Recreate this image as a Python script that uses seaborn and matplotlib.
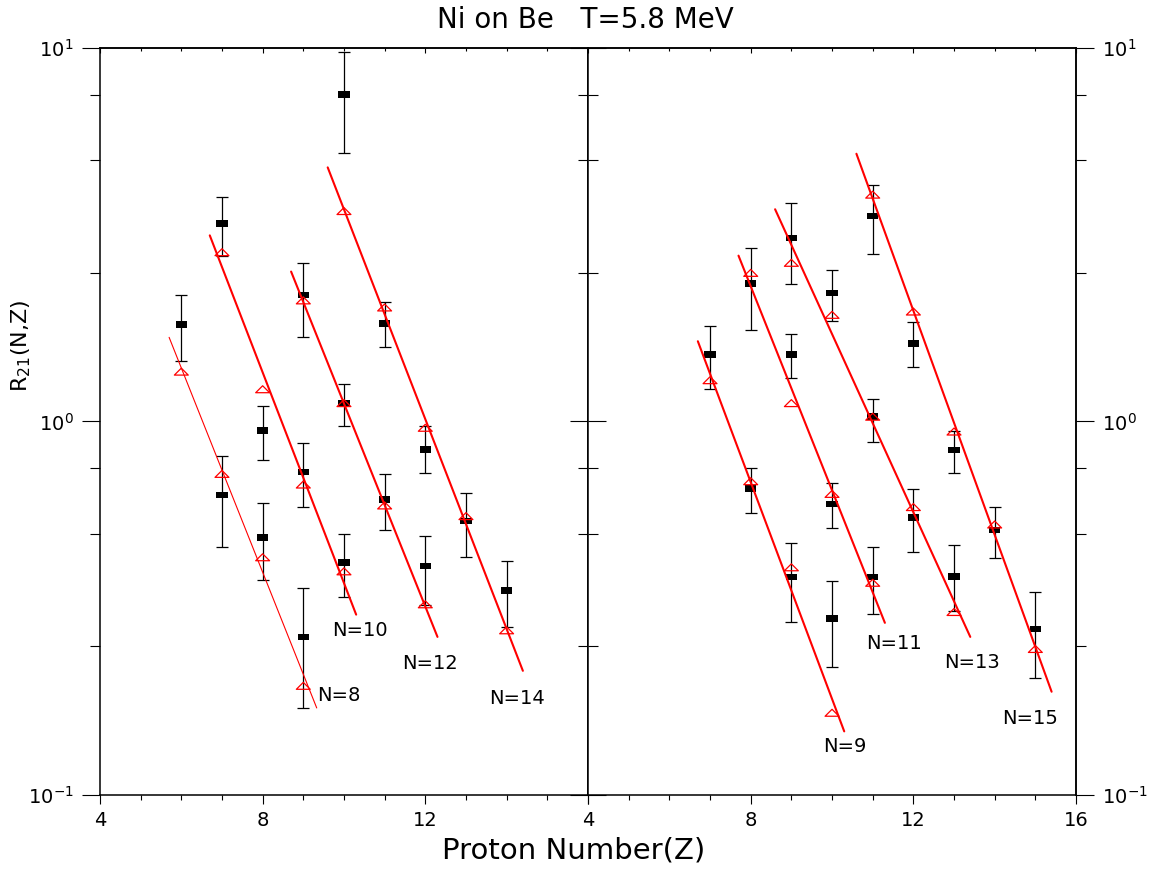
"""
plot.py - R21(N,Z) isoscaling ratios, Ni on Be, T=5.8 MeV
two panels: even N (left) and odd N (right)
"""
import numpy as np
import pandas as pd
import matplotlib
matplotlib.use("Agg")
import matplotlib.pyplot as plt
from matplotlib.path import Path
from matplotlib.ticker import (LogLocator, NullFormatter, MultipleLocator,
                               FixedLocator, LogFormatterSciNotation)
import seaborn as sns

# ---------------- data ----------------
# left panel, even N
N8_Z = [6, 7, 8, 9]
N8_exp = [1.82, 0.635, 0.490, 0.265]
N8_lo = [1.45, 0.462, 0.377, 0.171]
N8_hi = [2.18, 0.807, 0.604, 0.359]
N8_calc = [1.36, 0.724, 0.433, 0.196]
N8_fitZ = [5.7, 9.33]
N8_fitR = [1.68, 0.171]
N8_label = (9.33, 0.185)

N10_Z = [7, 8, 9, 10]
N10_exp = [3.39, 0.946, 0.732, 0.420]
N10_lo = [2.78, 0.791, 0.591, 0.339]
N10_hi = [4.00, 1.10, 0.875, 0.500]
N10_calc = [2.84, 1.22, 0.678, 0.397]
N10_fitZ = [6.7, 10.3]
N10_fitR = [3.15, 0.304]
N10_label = (9.71, 0.276)

N12_Z = [9, 10, 11, 12]
N12_exp = [2.18, 1.12, 0.618, 0.410]
N12_lo = [1.68, 0.971, 0.511, 0.322]
N12_hi = [2.66, 1.26, 0.723, 0.494]
N12_calc = [2.11, 1.12, 0.596, 0.324]
N12_fitZ = [8.7, 12.3]
N12_fitR = [2.52, 0.265]
N12_label = (11.43, 0.225)

N14_Z = [10, 11, 12, 13, 14]
N14_exp = [7.51, 1.83, 0.843, 0.541, 0.353]
N14_lo = [5.22, 1.58, 0.729, 0.435, 0.282]
N14_hi = [9.77, 2.09, 0.970, 0.644, 0.424]
N14_calc = [3.66, 2.02, 0.962, 0.558, 0.276]
N14_fitZ = [9.6, 14.4]
N14_fitR = [4.79, 0.215]
N14_label = (13.57, 0.181)

# right panel, odd N
N9_Z = [7, 8, 9, 10]
N9_exp = [1.51, 0.661, 0.383, 0.297]
N9_lo = [1.22, 0.570, 0.290, 0.220]
N9_hi = [1.80, 0.752, 0.474, 0.375]
N9_calc = [1.29, 0.692, 0.407, 0.166]
N9_fitZ = [6.7, 10.3]
N9_fitR = [1.64, 0.148]
N9_label = (9.78, 0.135)

N11_Z = [8, 9, 10, 11]
N11_exp = [2.34, 1.51, 0.601, 0.383]
N11_lo = [1.76, 1.31, 0.519, 0.306]
N11_hi = [2.91, 1.71, 0.685, 0.461]
N11_calc = [2.50, 1.12, 0.640, 0.370]
N11_fitZ = [7.7, 11.3]
N11_fitR = [2.78, 0.289]
N11_label = (10.83, 0.254)

N13_Z = [9, 10, 11, 12, 13]
N13_exp = [3.10, 2.21, 1.03, 0.554, 0.385]
N13_lo = [2.33, 1.86, 0.882, 0.448, 0.310]
N13_hi = [3.85, 2.54, 1.15, 0.661, 0.466]
N13_calc = [2.66, 1.93, 1.03, 0.590, 0.309]
N13_fitZ = [8.6, 13.4]
N13_fitR = [3.70, 0.265]
N13_label = (12.75, 0.226)

N15_Z = [11, 12, 13, 14, 15]
N15_exp = [3.55, 1.62, 0.838, 0.512, 0.278]
N15_lo = [2.80, 1.40, 0.726, 0.432, 0.206]
N15_hi = [4.30, 1.85, 0.942, 0.592, 0.350]
N15_calc = [4.05, 1.97, 0.940, 0.530, 0.246]
N15_fitZ = [10.6, 15.4]
N15_fitR = [5.21, 0.189]
N15_label = (14.18, 0.160)

# axis ticks
Y_MAJOR = [0.1, 1, 10]
Y_MINOR = [0.25, 0.5, 0.75, 2.5, 5, 7.5]

LEFT = [
    (8, N8_Z, N8_exp, N8_lo, N8_hi, N8_calc, N8_fitZ, N8_fitR, N8_label),
    (10, N10_Z, N10_exp, N10_lo, N10_hi, N10_calc, N10_fitZ, N10_fitR, N10_label),
    (12, N12_Z, N12_exp, N12_lo, N12_hi, N12_calc, N12_fitZ, N12_fitR, N12_label),
    (14, N14_Z, N14_exp, N14_lo, N14_hi, N14_calc, N14_fitZ, N14_fitR, N14_label),
]
RIGHT = [
    (9, N9_Z, N9_exp, N9_lo, N9_hi, N9_calc, N9_fitZ, N9_fitR, N9_label),
    (11, N11_Z, N11_exp, N11_lo, N11_hi, N11_calc, N11_fitZ, N11_fitR, N11_label),
    (13, N13_Z, N13_exp, N13_lo, N13_hi, N13_calc, N13_fitZ, N13_fitR, N13_label),
    (15, N15_Z, N15_exp, N15_lo, N15_hi, N15_calc, N15_fitZ, N15_fitR, N15_label),
]

# flat rectangle and flat triangle markers (like the Origin originals)
SQUARE = Path([(-1, -0.6), (1, -0.6), (1, 0.6), (-1, 0.6), (-1, -0.6)], closed=True)
TRIANGLE = Path([(-1, -0.5), (1, -0.5), (0, 0.5), (-1, -0.5)], closed=True)

sns.set_style("ticks")
plt.rcParams["font.family"] = ["DejaVu Sans"]
plt.rcParams["mathtext.default"] = "regular"
for key in ("text.color", "axes.labelcolor", "xtick.color", "ytick.color", "axes.edgecolor"):
    plt.rcParams[key] = "black"


def draw_panel(ax, series):
    for n, z, exp, lo, hi, calc, fit_z, fit_r, lab in series:
        df = pd.DataFrame({"Z": z, "exp": exp, "lo": lo, "hi": hi, "calc": calc})
        yerr = [df["exp"] - df["lo"], df["hi"] - df["exp"]]
        ax.errorbar(df["Z"], df["exp"], yerr=yerr, fmt="none", ecolor="black",
                    elinewidth=0.9, capsize=4, capthick=0.9, zorder=2)
        sns.scatterplot(data=df, x="Z", y="exp", marker=SQUARE, s=64, color="black",
                        edgecolor="none", linewidth=0, ax=ax, zorder=3, legend=False)
        sns.lineplot(x=fit_z, y=fit_r, color="red", linewidth=0.8 if n == 8 else 1.5,
                     ax=ax, zorder=4, legend=False)
        sns.scatterplot(data=df, x="Z", y="calc", marker=TRIANGLE, s=100, color="red",
                        facecolor="none", edgecolor="red", linewidth=0.9, ax=ax,
                        zorder=5, legend=False)
        ax.text(lab[0], lab[1], f"N={n}", fontsize=14, ha="left", va="center")


def style_panel(ax, outer_side):
    ax.set_yscale("log")
    ax.set_xlim(4, 16)
    ax.set_ylim(0.1, 10)
    ax.set_xlabel("")
    ax.set_ylabel("")
    for sp in ax.spines.values():
        sp.set_linewidth(1.1)
        sp.set_visible(True)

    ax.xaxis.set_major_locator(MultipleLocator(4))
    ax.xaxis.set_minor_locator(MultipleLocator(1))
    ax.tick_params(axis="x", which="both", direction="out", bottom=True, top=False,
                   labelsize=14, width=0.8)
    ax.tick_params(axis="x", which="major", length=6.5, pad=5)
    ax.tick_params(axis="x", which="minor", length=3.6)

    # top: small inward ticks
    top = ax.secondary_xaxis("top")
    top.xaxis.set_major_locator(FixedLocator([4, 8, 12, 16]))
    top.xaxis.set_minor_locator(FixedLocator(list(range(5, 16))))
    top.tick_params(which="both", direction="in", labeltop=False, width=0.8)
    top.tick_params(which="major", length=3.6)
    top.tick_params(which="minor", length=2.2)
    top.spines["top"].set_linewidth(1.1)

    ax.yaxis.set_major_locator(FixedLocator(Y_MAJOR))
    ax.yaxis.set_major_formatter(LogFormatterSciNotation())
    ax.yaxis.set_minor_locator(FixedLocator(Y_MINOR))
    ax.yaxis.set_minor_formatter(NullFormatter())

    # right side of every panel is drawn by a secondary axis
    sec = ax.secondary_yaxis("right")
    sec.yaxis.set_major_locator(FixedLocator(Y_MAJOR))
    sec.yaxis.set_major_formatter(LogFormatterSciNotation())
    sec.yaxis.set_minor_locator(FixedLocator(Y_MINOR))
    sec.yaxis.set_minor_formatter(NullFormatter())
    sec.spines["right"].set_linewidth(1.1)

    if outer_side == "left":
        # outward ticks + labels on the left, inward ticks on the shared middle
        ax.tick_params(axis="y", which="both", direction="out", left=True, right=False,
                       labelleft=True, labelright=False, labelsize=14, width=0.8, pad=6)
        sec.tick_params(which="both", direction="in", labelright=False, labelleft=False,
                        width=0.8)
    else:
        # inward ticks on the shared middle, outward ticks + labels on the right
        ax.tick_params(axis="y", which="both", direction="in", left=True, right=False,
                       labelleft=False, labelright=False, width=0.8)
        sec.tick_params(which="both", direction="out", labelright=True, labelleft=False,
                        labelsize=14, width=0.8, pad=6)
    for a in (ax, sec):
        a.tick_params(axis="y", which="major", length=13)
        a.tick_params(axis="y", which="minor", length=7)


fig = plt.figure(figsize=(11.64, 8.76), dpi=100)
axL = fig.add_axes([0.0859, 0.0925, 0.4192, 0.8527])
axR = fig.add_axes([0.5052, 0.0925, 0.4192, 0.8527])

for ax in (axL, axR):
    ax.set_yscale("log")

draw_panel(axL, LEFT)
draw_panel(axR, RIGHT)

style_panel(axL, "left")
style_panel(axR, "right")

axL.set_xticks([4, 8, 12, 16], ["4", "8", "12", ""])
axR.set_xticks([4, 8, 12, 16], ["4", "8", "12", "16"])

fig.text(0.503, 0.977, "Ni on Be   T=5.8 MeV", ha="center", va="center", fontsize=20)
fig.text(0.493, 0.029, "Proton Number(Z)", ha="center", va="center", fontsize=21)
fig.text(0.018, 0.605, r"R$_{21}$(N,Z)", ha="center", va="center", rotation=90,
         fontsize=16)

fig.savefig("out.png", dpi=100)
